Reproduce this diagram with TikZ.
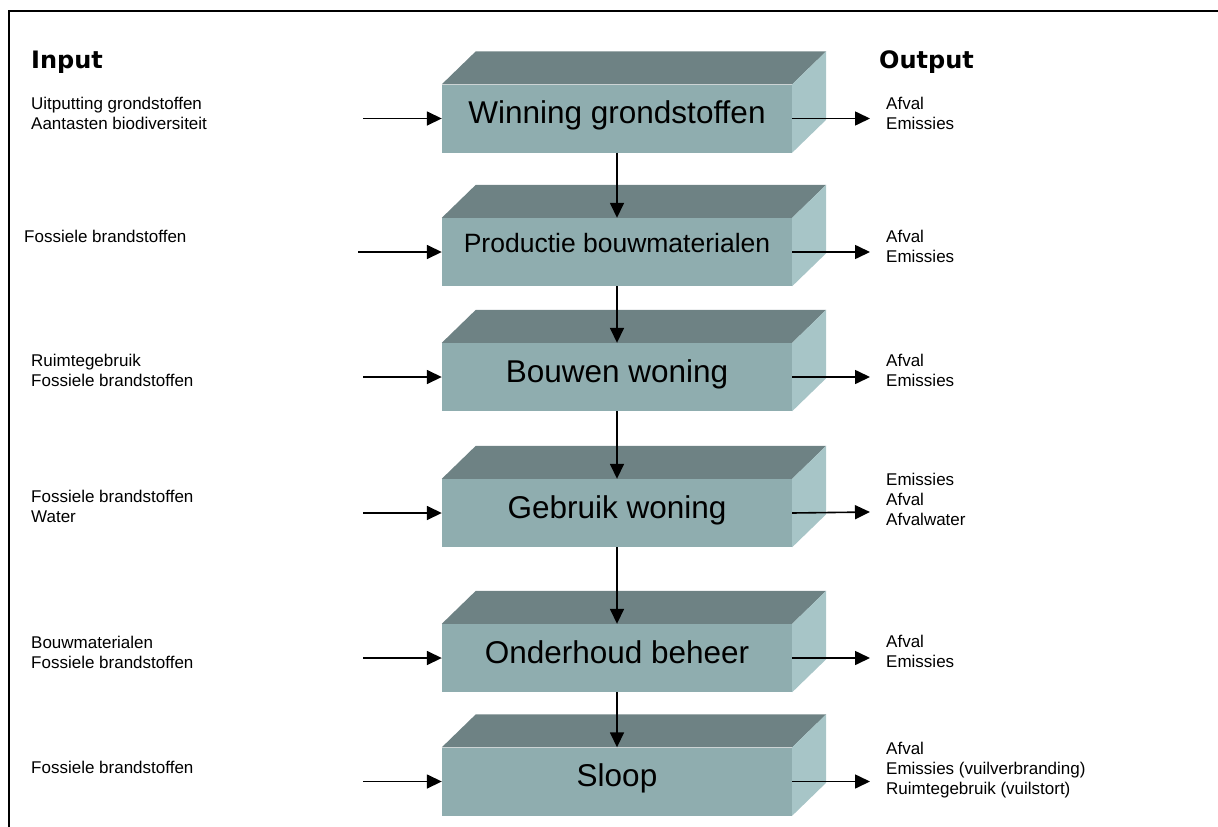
\documentclass[tikz,border=0pt]{standalone}
\usepackage{fontspec}
\setmainfont{Liberation Sans}
\newfontfamily\kopfont{DejaVu Sans}
\usetikzlibrary{arrows.meta,positioning,calc}
\definecolor{voorkant}{RGB}{143,173,175}
\definecolor{bovenkant}{RGB}{110,130,132}
\definecolor{zijkant}{RGB}{167,197,199}

\begin{document}
\begin{tikzpicture}[x=1pt,y=-1pt,
    >={Triangle[length=15pt,width=14pt]},
    blok/.style={fill=voorkant,minimum width=350pt,minimum height=68pt,inner sep=0pt,
      text height=10pt,text depth=0pt,font=\fontsize{31.5}{34}\selectfont},
    tekst/.style={anchor=west,align=left,inner sep=0pt,font=\fontsize{17}{20}\selectfont},
    kop/.style={anchor=west,inner sep=0pt,font=\kopfont\bfseries\fontsize{24}{26}\selectfont},
    pijl/.style={->,line width=1.6pt}]
  \useasboundingbox (0,0) rectangle (1218,827);
  % frame
  \draw[line width=2pt] (9,827) -- (9,11) -- (1218,11);
  % headers
  \node[kop] (input) at (31,62) {Input};
  \node[kop] (output) at (879,62) {Output};
  % process steps (front faces)
  \node[blok] (b1) at (617,118.5) {Winning grondstoffen};
  \node[blok,font=\fontsize{26.5}{30}\selectfont,text height=5pt,text depth=5pt] (b2) at (617,252) {Productie bouwmaterialen};
  \node[blok] (b3) at (617,377) {Bouwen woning};
  \node[blok] (b4) at (617,513) {Gebruik woning};
  \node[blok] (b5) at (617,658) {Onderhoud beheer};
  \node[blok] (b6) at (617,781.5) {Sloop};
  % top and side faces
  \foreach \b in {b1,b2,b3,b4,b5,b6} {
    \fill[bovenkant] (\b.north west) -- ++(34,-33) -- ($(\b.north east)+(34,-33)$) -- (\b.north east) -- cycle;
    \fill[zijkant] (\b.north east) -- ++(34,-33) -- ($(\b.south east)+(34,-33)$) -- (\b.south east) -- cycle;
  }
  % inputs
  \node[tekst] (in1) at (31,113) {Uitputting grondstoffen\\Aantasten biodiversiteit};
  \node[tekst] (in2) at (24,236) {Fossiele brandstoffen};
  \node[tekst] (in3) at (31,370) {Ruimtegebruik\\Fossiele brandstoffen};
  \node[tekst] (in4) at (31,506) {Fossiele brandstoffen\\Water};
  \node[tekst] (in5) at (31,652) {Bouwmaterialen\\Fossiele brandstoffen};
  \node[tekst] (in6) at (31,767) {Fossiele brandstoffen};
  % outputs
  \node[tekst] (uit1) at (886,113.5) {Afval\\Emissies};
  \node[tekst] (uit2) at (886,246) {Afval\\Emissies};
  \node[tekst] (uit3) at (886,370) {Afval\\Emissies};
  \node[tekst] (uit4) at (886,499) {Emissies\\Afval\\Afvalwater};
  \node[tekst] (uit5) at (886,651) {Afval\\Emissies};
  \node[tekst] (uit6) at (886,770) {Afval\\Emissies (vuilverbranding)\\Ruimtegebruik (vuilstort)};
  % arrow ends
  \coordinate (s1) at (363,118.5);
  \coordinate (s2) at (358,252);
  \coordinate (s3) at (363,377);
  \coordinate (s4) at (363,513);
  \coordinate (s5) at (363,658);
  \coordinate (s6) at (363,781.5);
  \coordinate (e1) at (870,118.5);
  \coordinate (e2) at (870,252);
  \coordinate (e3) at (870,377);
  \coordinate (e4) at (870,512);
  \coordinate (e5) at (870,658);
  \coordinate (e6) at (870,781.5);
  % arrows
  \foreach \i in {1,...,6} {
    \draw[pijl] (s\i) -- (b\i.west);
    \draw[pijl] (b\i.east) -- (e\i);
  }
  \draw[pijl] (b1.south) -- (b2.north);
  \draw[pijl] (b2.south) -- (b3.north);
  \draw[pijl] (b3.south) -- (b4.north);
  \draw[pijl] (b4.south) -- (b5.north);
  \draw[pijl] (b5.south) -- (b6.north);
\end{tikzpicture}
\end{document}
